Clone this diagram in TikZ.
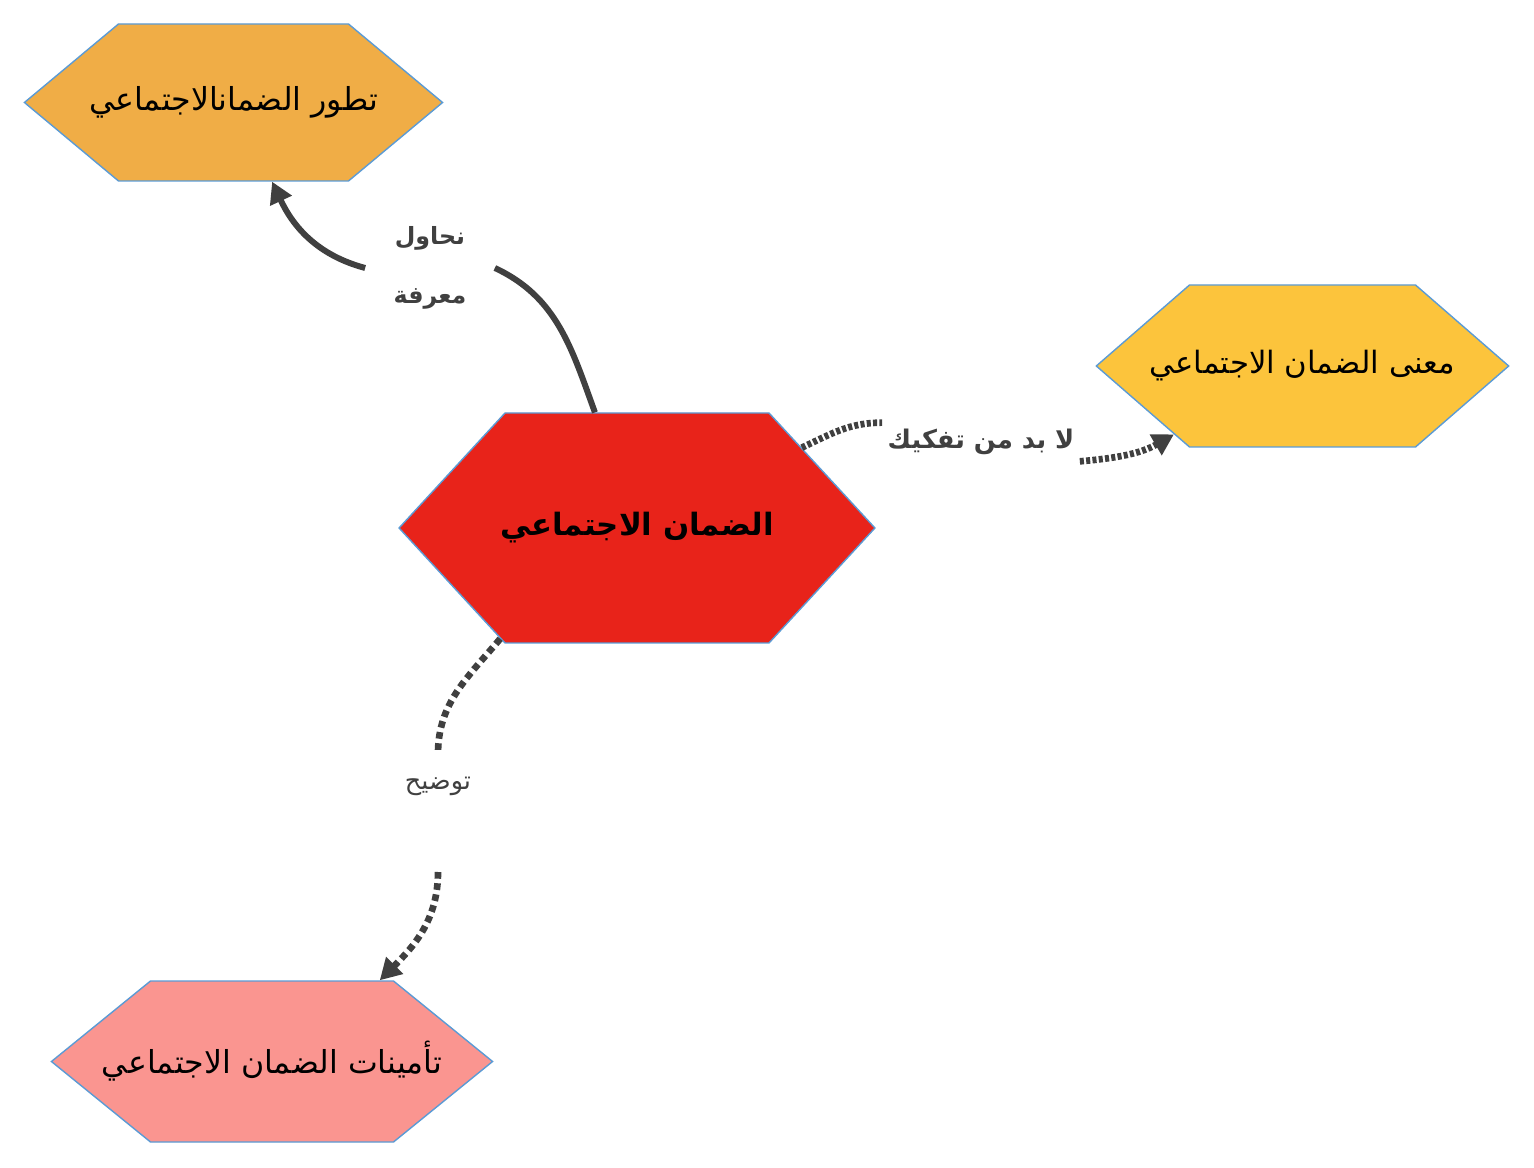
\documentclass[tikz,border=0pt]{standalone}
\usepackage{fontspec}
\usepackage{tikz}
\usetikzlibrary{shapes, arrows.meta, positioning, calc}
\newfontfamily\arabicfont[Script=Arabic]{DejaVu Sans}
\TeXXeTstate=1

\definecolor{evofill}{HTML}{F0AD46}
\definecolor{meanfill}{HTML}{FCC43C}
\definecolor{hubfill}{HTML}{E8231A}
\definecolor{insfill}{HTML}{FA9590}
\definecolor{edgeblue}{HTML}{5B9BD5}
\definecolor{linkgray}{HTML}{404040}

% text centred on the flat part of a hexagon, free to run over its points
\newcommand{\hexlabel}[2]{\makebox[#1]{#2}}

\tikzset{
  hexa/.style = {signal, signal to=west and east, draw=edgeblue, line width=0.8pt,
      inner sep=0pt, font=\arabicfont\fontsize{18}{22}\selectfont},
  linklabel/.style = {inner sep=0pt, text=linkgray, align=center},
  solidlink/.style = {draw=linkgray, line width=3.4pt, -{Triangle[length=12pt,width=13pt]}},
  dotlink/.style = {draw=linkgray, line width=3.8pt, dash pattern=on 2.3pt off 1.3pt,
      -{Triangle[length=12pt,width=13pt]}},
  squarelink/.style = {dotlink, dash pattern=on 3.8pt off 2.6pt},
}

\begin{document}
\begin{tikzpicture}
\useasboundingbox (0,0) rectangle (30.68,23.34);

\node (hub) [hexa, fill=hubfill, minimum height=4.6cm, signal pointer angle=94.7,
    font=\arabicfont\bfseries\fontsize{17.5}{22}\selectfont] at (12.74,12.78)
    {\hexlabel{5.28cm}{\beginR الضمان الاجتماعي\endR}};
\node (evo) [hexa, fill=evofill, minimum height=3.14cm, signal pointer angle=79.7] at (4.67,21.29)
    {\hexlabel{4.6cm}{\beginR تطور الضمانالاجتماعي\endR}};
\node (mean) [hexa, fill=meanfill, minimum height=3.24cm, signal pointer angle=82,
    font=\arabicfont\fontsize{17.5}{22}\selectfont] at (26.05,16.02)
    {\hexlabel{4.52cm}{\beginR معنى الضمان الاجتماعي\endR}};
\node (ins) [hexa, fill=insfill, minimum height=3.22cm, signal pointer angle=78.2] at (5.44,2.11)
    {\hexlabel{4.86cm}{\beginR تأمينات الضمان الاجتماعي\endR}};

% labels on the links
\node (ask) [linklabel, minimum width=2.58cm, font=\arabicfont\bfseries\fontsize{13.5}{34}\selectfont]
    at (8.6,17.98) {\beginR نحاول\endR\\\beginR معرفة\endR};
\node (cut) [linklabel, minimum width=3.94cm, minimum height=0.76cm, font=\arabicfont\bfseries\fontsize{14.6}{20}\selectfont]
    at (19.62,14.5) {\beginR لا بد من تفكيك\endR};
\node (tell) [linklabel, font=\arabicfont\fontsize{14.5}{18}\selectfont] at (8.76,7.62) {\beginR توضيح\endR};
\coordinate [above=0.64 of tell.center] (tellin);
\coordinate [below=1.72 of tell.center] (tellout);

\draw [solidlink, -] (hub.110) to[out=110, in=-25] (ask.east);
\draw [solidlink] (ask.west) to[out=165, in=-65] (evo.-64);

\draw [dotlink, -] (hub.26) to[out=25, in=180] (cut.north west);
\draw [dotlink] (cut.south east) to[out=5, in=210] (mean.208);

\draw [squarelink, -] (hub.219) to[out=230, in=90] (tellin);
\draw [squarelink] (tellout) to[out=-90, in=45] (ins.37);

\end{tikzpicture}
\end{document}
